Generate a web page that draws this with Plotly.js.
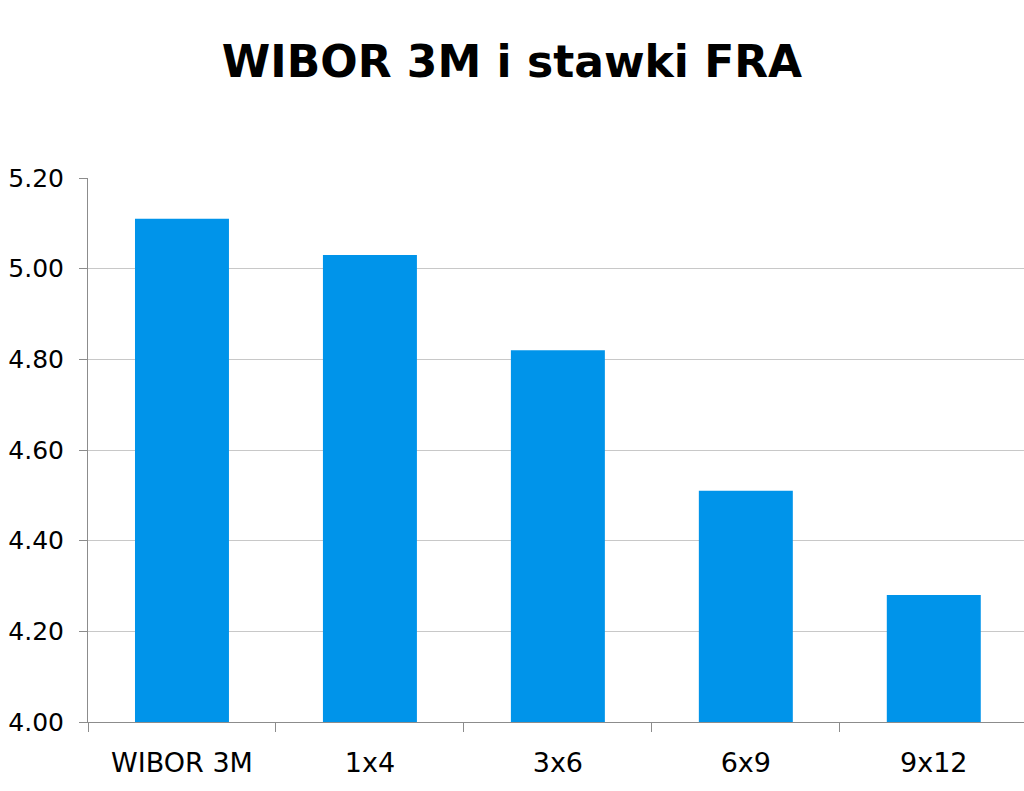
<!DOCTYPE html>
<html>
<head>
<meta charset="utf-8">
<script src="https://cdn.plot.ly/plotly-3.0.1.min.js"></script>
<style>
  html, body { margin: 0; padding: 0; background: #fff; overflow: hidden; }
  #chart { width: 1024px; height: 791px; }
</style>
</head>
<body>
<div id="chart"></div>
<script>
// WIBOR 3M and FRA rates
var categories = ['WIBOR 3M', '1x4', '3x6', '6x9', '9x12'];
var rates = [5.11, 5.03, 4.82, 4.51, 4.28];
var yTicks = [4.0, 4.2, 4.4, 4.6, 4.8, 5.0, 5.2];

var trace = {
  x: categories,
  y: rates,
  type: 'bar',
  marker: { color: '#0094EA' },
  hoverinfo: 'x+y'
};

var layout = {
  width: 1024,
  height: 791,
  margin: { l: 88, r: 0, t: 178, b: 69 },
  paper_bgcolor: '#ffffff',
  plot_bgcolor: '#ffffff',
  font: { family: 'DejaVu Sans, Verdana, sans-serif', color: '#000000' },
  title: {
    text: '<b>WIBOR 3M i stawki FRA</b>',
    font: { size: 44, family: 'DejaVu Sans, Verdana, sans-serif', color: '#000000' },
    x: 0.5,
    xref: 'container',
    y: 1 - 62 / 791,
    yref: 'container',
    yanchor: 'middle'
  },
  bargap: 0.5,
  showlegend: false,
  xaxis: {
    type: 'category',
    range: [-0.5, 4.48],
    showline: true,
    linecolor: '#8c8c8c',
    linewidth: 1,
    ticks: 'outside',
    tickson: 'boundaries',
    ticklen: 9,
    tickcolor: '#8c8c8c',
    tickfont: { size: 27 },
    ticklabelstandoff: 17,
    showgrid: false,
    zeroline: false
  },
  yaxis: {
    range: [4.0, 5.2],
    tickvals: yTicks,
    tickformat: '.2f',
    showline: true,
    linecolor: '#8c8c8c',
    linewidth: 1,
    ticks: 'outside',
    ticklen: 8,
    tickcolor: '#8c8c8c',
    tickfont: { size: 25 },
    ticklabelstandoff: 10,
    showgrid: true,
    gridcolor: '#c8c8c8',
    gridwidth: 1,
    zeroline: false
  }
};

Plotly.newPlot('chart', [trace], layout, { displayModeBar: false, staticPlot: true });
</script>
</body>
</html>
